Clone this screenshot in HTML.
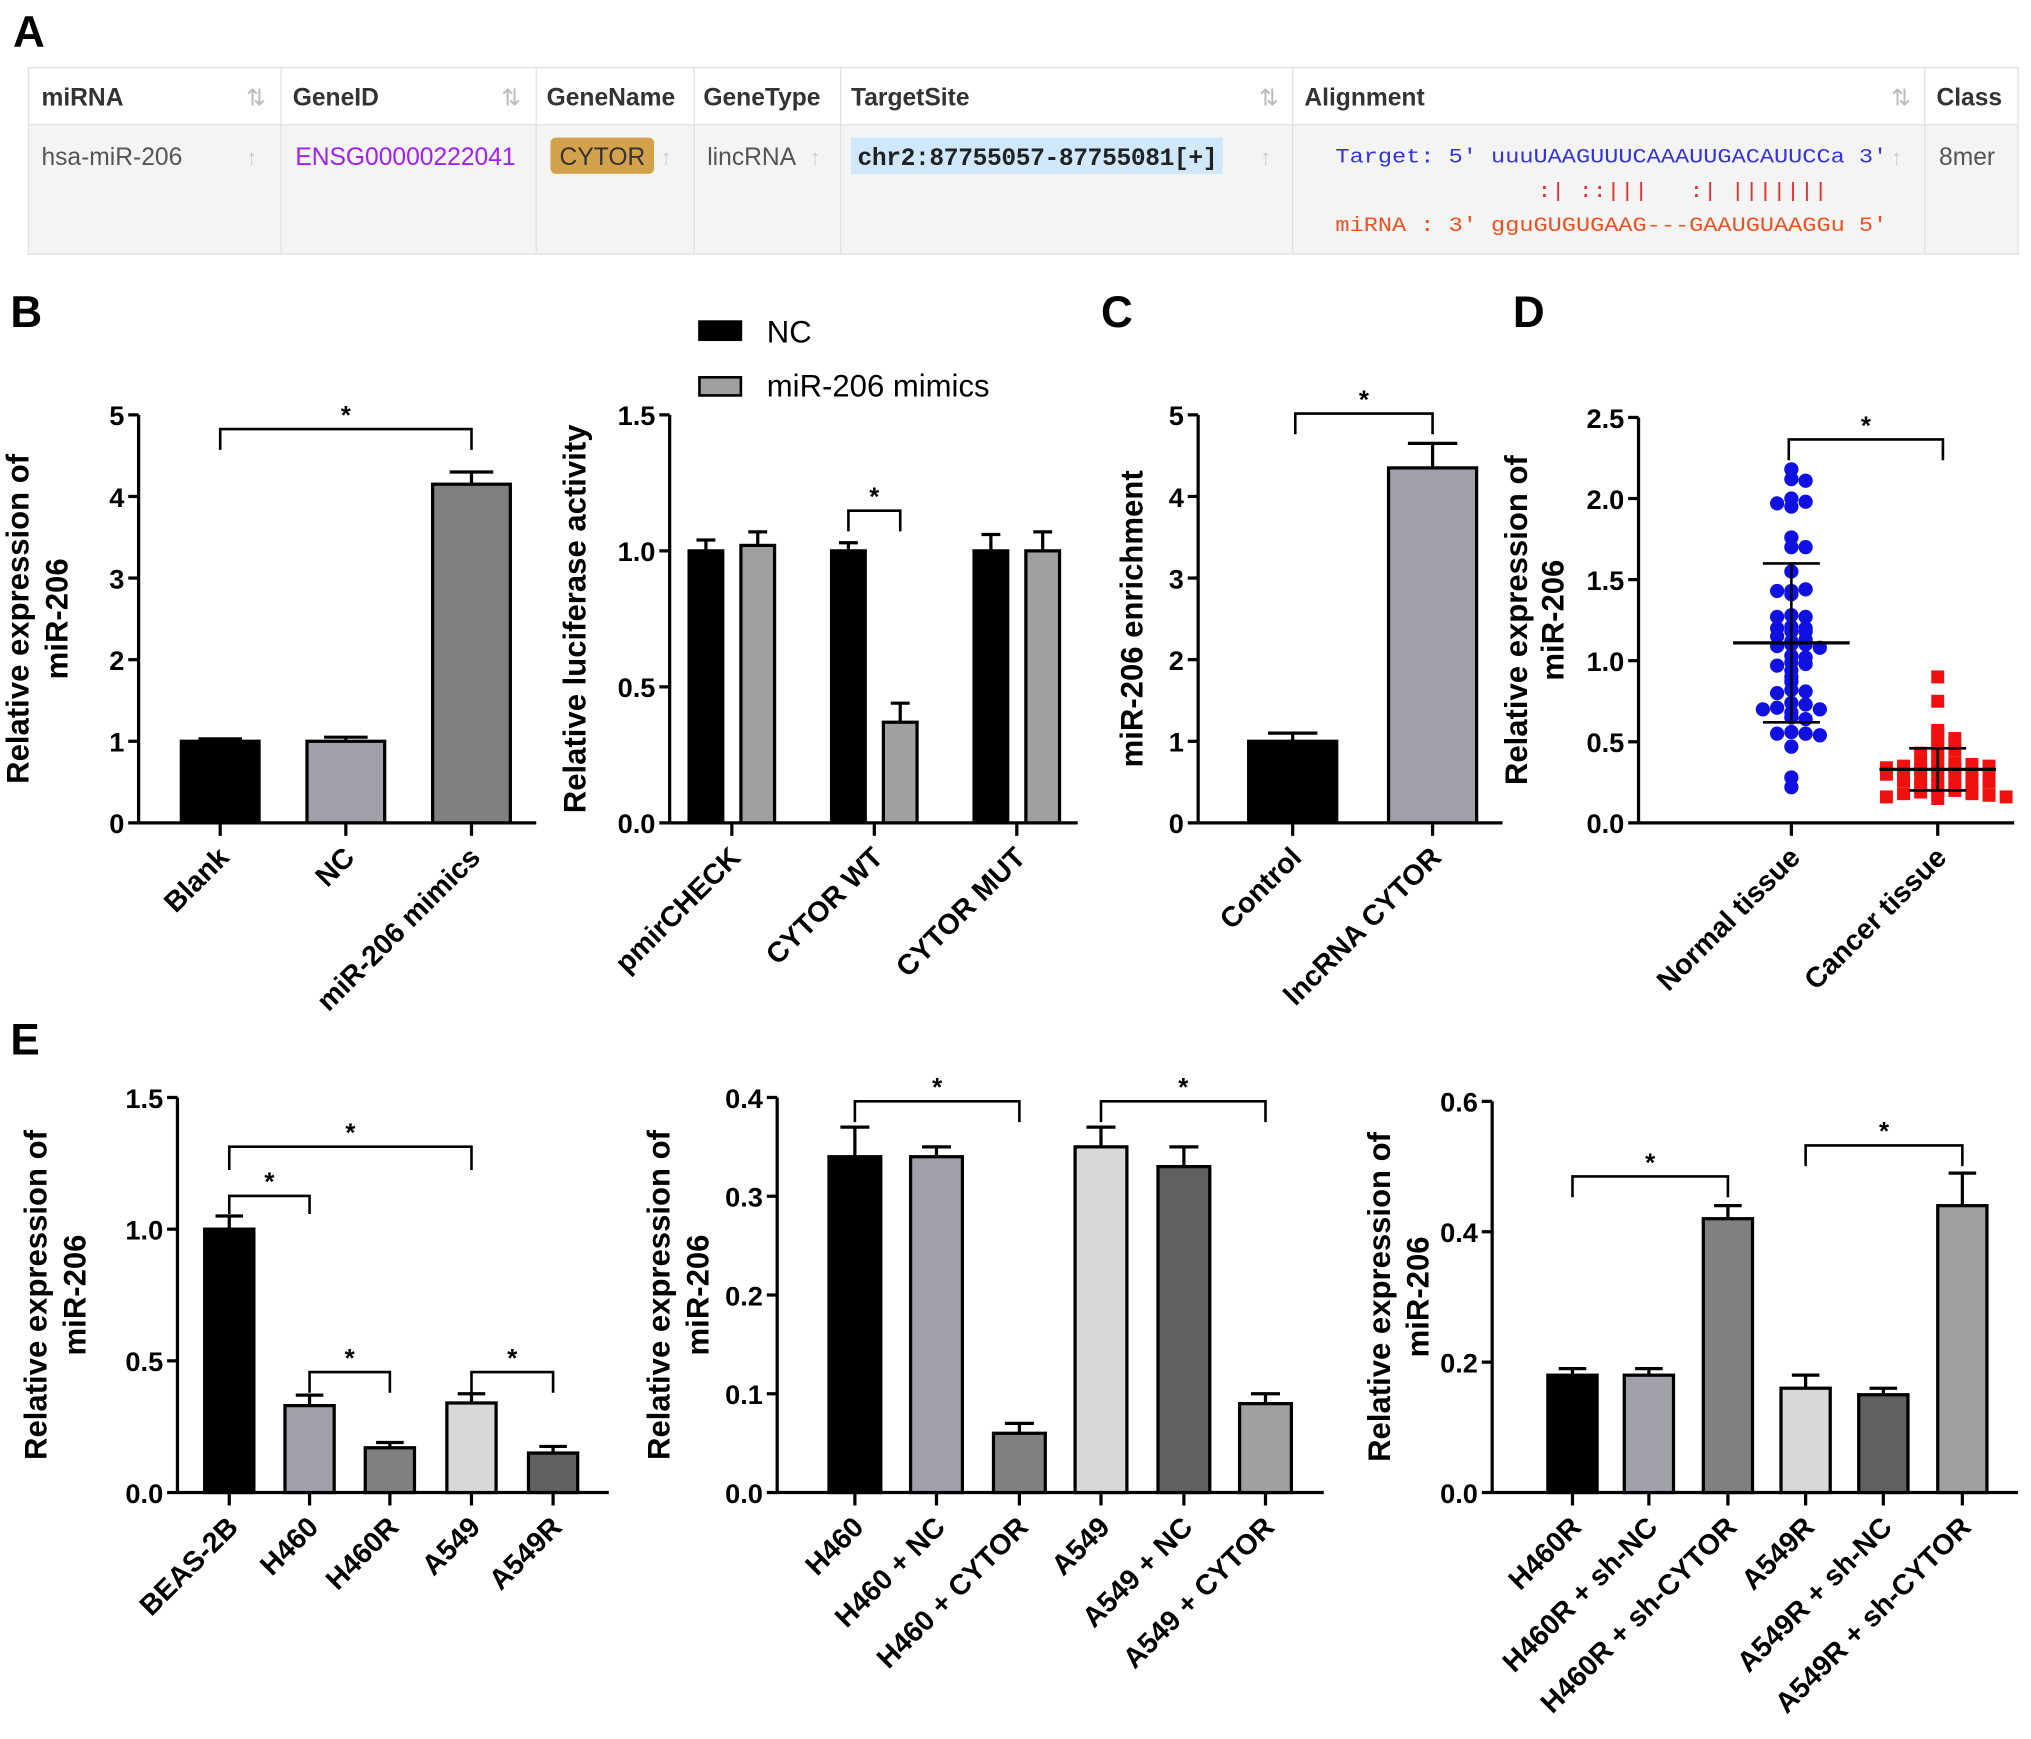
<!DOCTYPE html>
<html><head><meta charset="utf-8">
<style>
html,body{margin:0;padding:0;background:#fff;}
svg{display:block;font-family:"Liberation Sans",Arial,sans-serif;}
.tk{font-size:21px;font-weight:bold;}
.yt{font-size:24px;font-weight:bold;}
.xl{font-size:22px;font-weight:bold;}
.pl{font-size:34px;font-weight:bold;}
.th{font-size:19px;font-weight:bold;fill:#333;}
.td{font-size:19px;fill:#555;}
</style></head>
<body>
<svg id="fig" width="2031" height="1739" viewBox="0 0 1568 1342" xmlns="http://www.w3.org/2000/svg">
<g>
<text class="pl" x="10" y="36">A</text>
<rect x="22" y="52" width="1536" height="144" fill="#f4f4f4" stroke="#e2e2e2"/>
<rect x="22" y="52" width="1536" height="44" fill="#fff" stroke="#e2e2e2"/>
<g stroke="#e2e2e2"><line x1="217" y1="52" x2="217" y2="196"/><line x1="414" y1="52" x2="414" y2="196"/><line x1="536" y1="52" x2="536" y2="196"/><line x1="649" y1="52" x2="649" y2="196"/><line x1="998" y1="52" x2="998" y2="196"/><line x1="1486" y1="52" x2="1486" y2="196"/></g>
<text class="th" x="32" y="81">miRNA</text>
<text class="th" x="226" y="81">GeneID</text>
<text class="th" x="422" y="81">GeneName</text>
<text class="th" x="543" y="81">GeneType</text>
<text class="th" x="657" y="81">TargetSite</text>
<text class="th" x="1007" y="81">Alignment</text>
<text class="th" x="1495" y="81">Class</text>
<g fill="#bbb" font-size="18"><text x="190" y="81">⇅</text><text x="387" y="81">⇅</text><text x="972" y="81">⇅</text><text x="1460" y="81">⇅</text></g>
<text class="td" x="32" y="127">hsa-miR-206</text>
<text class="td" x="228" y="127" style="fill:#a020f0">ENSG00000222041</text>
<rect x="425" y="106" width="80" height="28" rx="4" fill="#d4a24c"/>
<text class="td" x="432" y="127" style="fill:#333">CYTOR</text>
<text class="td" x="546" y="127">lincRNA</text>
<rect x="657" y="106" width="287" height="28" fill="#cfe8fb"/>
<text x="662" y="127" font-size="19" font-weight="bold" fill="#222" font-family="Liberation Mono,monospace" textLength="278">chr2:87755057-87755081[+]</text>
<g fill="#ccc" font-size="17"><text x="190" y="127">↑</text><text x="510" y="127">↑</text><text x="625" y="127">↑</text><text x="973" y="127">↑</text><text x="1460" y="127">↑</text></g>
<g font-family="Liberation Mono,monospace" font-size="16">
<text x="1031" y="125" fill="#3333dd" textLength="426" lengthAdjust="spacingAndGlyphs">Target: 5' uuuUAAGUUUCAAAUUGACAUUCCa 3'</text>
<text x="1187" y="152" fill="#e03030" textLength="224" lengthAdjust="spacingAndGlyphs" xml:space="preserve">:| ::|||   :| |||||||</text>
<text x="1031" y="178" fill="#f05020" textLength="426" lengthAdjust="spacingAndGlyphs">miRNA : 3' gguGUGUGAAG---GAAUGUAAGGu 5'</text>
</g>
<text class="td" x="1497" y="127">8mer</text>
</g>
<text class="pl" x="8" y="252">B</text>
<text class="pl" x="850" y="252">C</text>
<text class="pl" x="1168" y="252">D</text>
<text class="pl" x="8" y="814">E</text>
<g>
<rect x="540" y="248" width="32" height="14" fill="#000" stroke="#000" stroke-width="2"/>
<text x="592" y="264" font-size="24">NC</text>
<rect x="540" y="291" width="32" height="14" fill="#a0a0a0" stroke="#000" stroke-width="2"/>
<text x="592" y="306" font-size="24">miR-206 mimics</text>
</g>
<g id="charts"></g>
</svg>
<script>
const b1Cats=["Blank","NC","miR-206 mimics"];
const b1Vals=[1.0,1.0,4.15];
const b1Errs=[0.03,0.05,0.15];
const b1Ticks=["0","1","2","3","4","5"];
const b2Cats=["pmirCHECK","CYTOR WT","CYTOR MUT"];
const b2NC=[1.0,1.0,1.0];
const b2NCErr=[0.04,0.03,0.06];
const b2Mim=[1.02,0.37,1.0];
const b2MimErr=[0.05,0.07,0.07];
const b2Ticks=["0.0","0.5","1.0","1.5"];
const cCats=["Control","lncRNA CYTOR"];
const cVals=[1.0,4.35];
const cErrs=[0.1,0.3];
const cTicks=["0","1","2","3","4","5"];
const dCats=["Normal tissue","Cancer tissue"];
const dNormal=[2.18,2.12,2.11,2.0,1.98,1.97,1.95,1.76,1.7,1.7,1.55,1.43,1.44,1.41,1.43,1.28,1.27,1.27,1.21,1.2,1.18,1.18,1.2,1.15,1.12,1.13,1.1,1.1,1.09,1.08,1.03,1.02,0.99,0.98,0.97,0.94,0.9,0.87,0.82,0.81,0.8,0.74,0.73,0.71,0.7,0.7,0.68,0.65,0.64,0.56,0.55,0.55,0.54,0.47,0.28,0.22];
const dCancer=[0.9,0.75,0.57,0.55,0.52,0.5,0.47,0.45,0.43,0.41,0.38,0.37,0.37,0.36,0.35,0.35,0.34,0.33,0.33,0.33,0.32,0.31,0.3,0.3,0.29,0.28,0.28,0.27,0.26,0.25,0.24,0.23,0.22,0.21,0.2,0.2,0.19,0.18,0.18,0.17,0.16,0.16,0.15];
const dNormalStats=[1.11,0.49];
const dCancerStats=[0.33,0.13];
const dTicks=["0.0","0.5","1.0","1.5","2.0","2.5"];
const e1Cats=["BEAS-2B","H460","H460R","A549","A549R"];
const e1Vals=[1.0,0.33,0.17,0.34,0.15];
const e1Errs=[0.05,0.04,0.02,0.035,0.025];
const e1Ticks=["0.0","0.5","1.0","1.5"];
const e2Cats=["H460","H460 + NC","H460 + CYTOR","A549","A549 + NC","A549 + CYTOR"];
const e2Vals=[0.34,0.34,0.06,0.35,0.33,0.09];
const e2Errs=[0.03,0.01,0.01,0.02,0.02,0.01];
const e2Ticks=["0.0","0.1","0.2","0.3","0.4"];
const e3Cats=["H460R","H460R + sh-NC","H460R + sh-CYTOR","A549R","A549R + sh-NC","A549R + sh-CYTOR"];
const e3Vals=[0.18,0.18,0.42,0.16,0.15,0.44];
const e3Errs=[0.01,0.01,0.02,0.02,0.01,0.05];
const e3Ticks=["0.0","0.2","0.4","0.6"];

const NS="http://www.w3.org/2000/svg";
const root=document.getElementById('charts');
function mk(tag,attrs,parent,txt){const e=document.createElementNS(NS,tag);for(const k in attrs)e.setAttribute(k,attrs[k]);if(txt!==undefined)e.textContent=txt;(parent||root).appendChild(e);return e;}

function axes(g,ax){
  const sy=v=>ax.yBase-(v/ax.max)*(ax.yBase-ax.yTop);
  mk('line',{x1:ax.x0,y1:ax.yTop,x2:ax.x0,y2:ax.yBase,stroke:'#000','stroke-width':2.5},g);
  mk('line',{x1:ax.x0,y1:ax.yBase,x2:ax.xEnd,y2:ax.yBase,stroke:'#000','stroke-width':2.5},g);
  ax.ticks.forEach(t=>{const y=sy(parseFloat(t));
    mk('line',{x1:ax.x0-8,y1:y,x2:ax.x0,y2:y,stroke:'#000','stroke-width':2.5},g);
    const tx=mk('text',{x:ax.x0-11,y:y+8,'text-anchor':'end',class:'tk'},g,t);
    
    
  });
  const n=ax.titleLines.length, sp=ax.sp||30;
  ax.titleLines.forEach((s,i)=>{
    const tx=mk('text',{x:0,y:0,'text-anchor':'middle',class:'yt',transform:`translate(${ax.titleX+i*sp-(n-1)*sp/2},${(ax.yTop+ax.yBase)/2}) rotate(-90)`},g,s);
    
    
  });
  return sy;
}
function xlabel(g,x,y,s){
  mk('line',{x1:x,y1:y,x2:x,y2:y+10,stroke:'#000','stroke-width':2.5},g);
  const tx=mk('text',{x:0,y:0,'text-anchor':'end',class:'xl',transform:`translate(${x+8},${y+28}) rotate(-45)`},g,s);
  
  
}
function bar(g,cx,w,v,err,sy,fill,name){
  const y=sy(v),b=sy(0);
  const ye=sy(v+err);
  mk('line',{x1:cx,y1:ye,x2:cx,y2:y,stroke:'#000','stroke-width':2.5},g);
  mk('line',{x1:cx-w*0.28,y1:ye,x2:cx+w*0.28,y2:ye,stroke:'#000','stroke-width':2.5},g);
  const r=mk('rect',{x:cx-w/2,y:y,width:w,height:b-y,fill:fill,stroke:'#000','stroke-width':2.5},g);
  
  
}
function bracket(g,x1,x2,y,drop){
  mk('path',{d:`M${x1},${y+drop}V${y}H${x2}V${y+drop}`,fill:'none',stroke:'#000','stroke-width':2},g);
  const s=mk('text',{x:(x1+x2)/2,y:y-4,'text-anchor':'middle','font-size':20,'font-weight':'bold'},g,'*');
  
  
}
function group(name){const g=mk('g',{});return g;}

(function(){const g=group('chart-b-mir206-expression');
 const sy=axes(g,{x0:107,xEnd:414,yBase:635,yTop:320,max:5,ticks:b1Ticks,titleLines:['Relative expression of','miR-206'],titleX:37});
 const xs=[170,267,364],cols=['#000','#a0a0a8','#808080'];
 b1Cats.forEach((c,i)=>{bar(g,xs[i],60,b1Vals[i],b1Errs[i],sy,cols[i],'bar-'+i);xlabel(g,xs[i],635,c);});
 bracket(g,xs[0],xs[2],331,16);
})();
(function(){const g=group('chart-b-luciferase');
 const sy=axes(g,{x0:517,xEnd:832,yBase:635,yTop:320,max:1.5,ticks:b2Ticks,titleLines:['Relative luciferase activity'],titleX:452});
 const cs=[565,675,785];
 b2Cats.forEach((c,i)=>{bar(g,cs[i]-20,26,b2NC[i],b2NCErr[i],sy,'#000','bar-nc-'+i);bar(g,cs[i]+20,26,b2Mim[i],b2MimErr[i],sy,'#a0a0a0','bar-mimics-'+i);xlabel(g,cs[i],635,c);});
 bracket(g,cs[1]-20,cs[1]+20,394,16);
})();
(function(){const g=group('chart-c-enrichment');
 const sy=axes(g,{x0:925,xEnd:1160,yBase:635,yTop:320,max:5,ticks:cTicks,titleLines:['miR-206 enrichment'],titleX:882});
 const xs=[998,1106],cols=['#000','#a0a0a8'];
 cCats.forEach((c,i)=>{bar(g,xs[i],68,cVals[i],cErrs[i],sy,cols[i],'bar-'+i);xlabel(g,xs[i],635,c);});
 bracket(g,1000,1106,319,16);
})();
(function(){const g=group('chart-d-tissue-scatter');
 const sy=axes(g,{x0:1265,xEnd:1555,yBase:635,yTop:322,max:2.5,ticks:dTicks,titleLines:['Relative expression of','miR-206'],titleX:1193,sp:28});
 const xs=[1383,1496];
 function swarm(vals,cx,col,sq,nm){
   const bins={};
   vals.forEach(v=>{const k=Math.round(v/0.045);bins[k]=(bins[k]||0)+1;const n=bins[k]-1;
     const off=(n%2?1:-1)*Math.ceil(n/2)*11*(sq?1.2:1);const y=sy(v);
     let e;
     if(sq)e=mk('rect',{x:cx+off-5,y:y-5,width:10,height:10,fill:col},g);
     else e=mk('circle',{cx:cx+off,cy:y,r:5.5,fill:col},g);
     
     
   });
 }
 swarm(dNormal,xs[0],'#1010e0',false,'point-normal');
 swarm(dCancer,xs[1],'#f01010',true,'point-cancer');
 [[dNormalStats,xs[0]],[dCancerStats,xs[1]]].forEach(([s,cx])=>{
   mk('line',{x1:cx-45,y1:sy(s[0]),x2:cx+45,y2:sy(s[0]),stroke:'#000','stroke-width':2.5},g);
   mk('line',{x1:cx,y1:sy(s[0]-s[1]),x2:cx,y2:sy(s[0]+s[1]),stroke:'#000','stroke-width':2},g);
   mk('line',{x1:cx-22,y1:sy(s[0]+s[1]),x2:cx+22,y2:sy(s[0]+s[1]),stroke:'#000','stroke-width':2},g);
   mk('line',{x1:cx-22,y1:sy(s[0]-s[1]),x2:cx+22,y2:sy(s[0]-s[1]),stroke:'#000','stroke-width':2},g);
 });
 dCats.forEach((c,i)=>xlabel(g,xs[i],635,c));
 bracket(g,1381,1500,339,16);
})();
(function(){const g=group('chart-e-cell-lines');
 const sy=axes(g,{x0:137,xEnd:470,yBase:1152,yTop:847,max:1.5,ticks:e1Ticks,titleLines:['Relative expression of','miR-206'],titleX:51});
 const xs=[177,239,301,364,427],cols=['#000','#a0a0a8','#808080','#d8d8d8','#606060'];
 e1Cats.forEach((c,i)=>{bar(g,xs[i],38,e1Vals[i],e1Errs[i],sy,cols[i],'bar-'+i);xlabel(g,xs[i],1152,c);});
 bracket(g,xs[0],xs[3],885,18);bracket(g,xs[0],xs[1],923,14);bracket(g,xs[1],xs[2],1059,16);bracket(g,xs[3],xs[4],1059,16);
})();
(function(){const g=group('chart-e-overexpression');
 const sy=axes(g,{x0:600,xEnd:1022,yBase:1152,yTop:847,max:0.4,ticks:e2Ticks,titleLines:['Relative expression of','miR-206'],titleX:532});
 const xs=[660,723,787,850,914,977],cols=['#000','#a0a0a8','#808080','#d8d8d8','#606060','#a0a0a0'];
 e2Cats.forEach((c,i)=>{bar(g,xs[i],40,e2Vals[i],e2Errs[i],sy,cols[i],'bar-'+i);xlabel(g,xs[i],1152,c);});
 bracket(g,xs[0],xs[2],850,16);bracket(g,xs[3],xs[5],850,16);
})();
(function(){const g=group('chart-e-knockdown');
 const sy=axes(g,{x0:1152,xEnd:1558,yBase:1152,yTop:850,max:0.6,ticks:e3Ticks,titleLines:['Relative expression of','miR-206'],titleX:1088});
 const xs=[1214,1273,1334,1394,1454,1515],cols=['#000','#a0a0a8','#808080','#d8d8d8','#606060','#a0a0a0'];
 e3Cats.forEach((c,i)=>{bar(g,xs[i],38,e3Vals[i],e3Errs[i],sy,cols[i],'bar-'+i);xlabel(g,xs[i],1152,c);});
 bracket(g,xs[0],xs[2],908,16);bracket(g,xs[3],xs[5],884,16);
})();
</script>
</body></html>
